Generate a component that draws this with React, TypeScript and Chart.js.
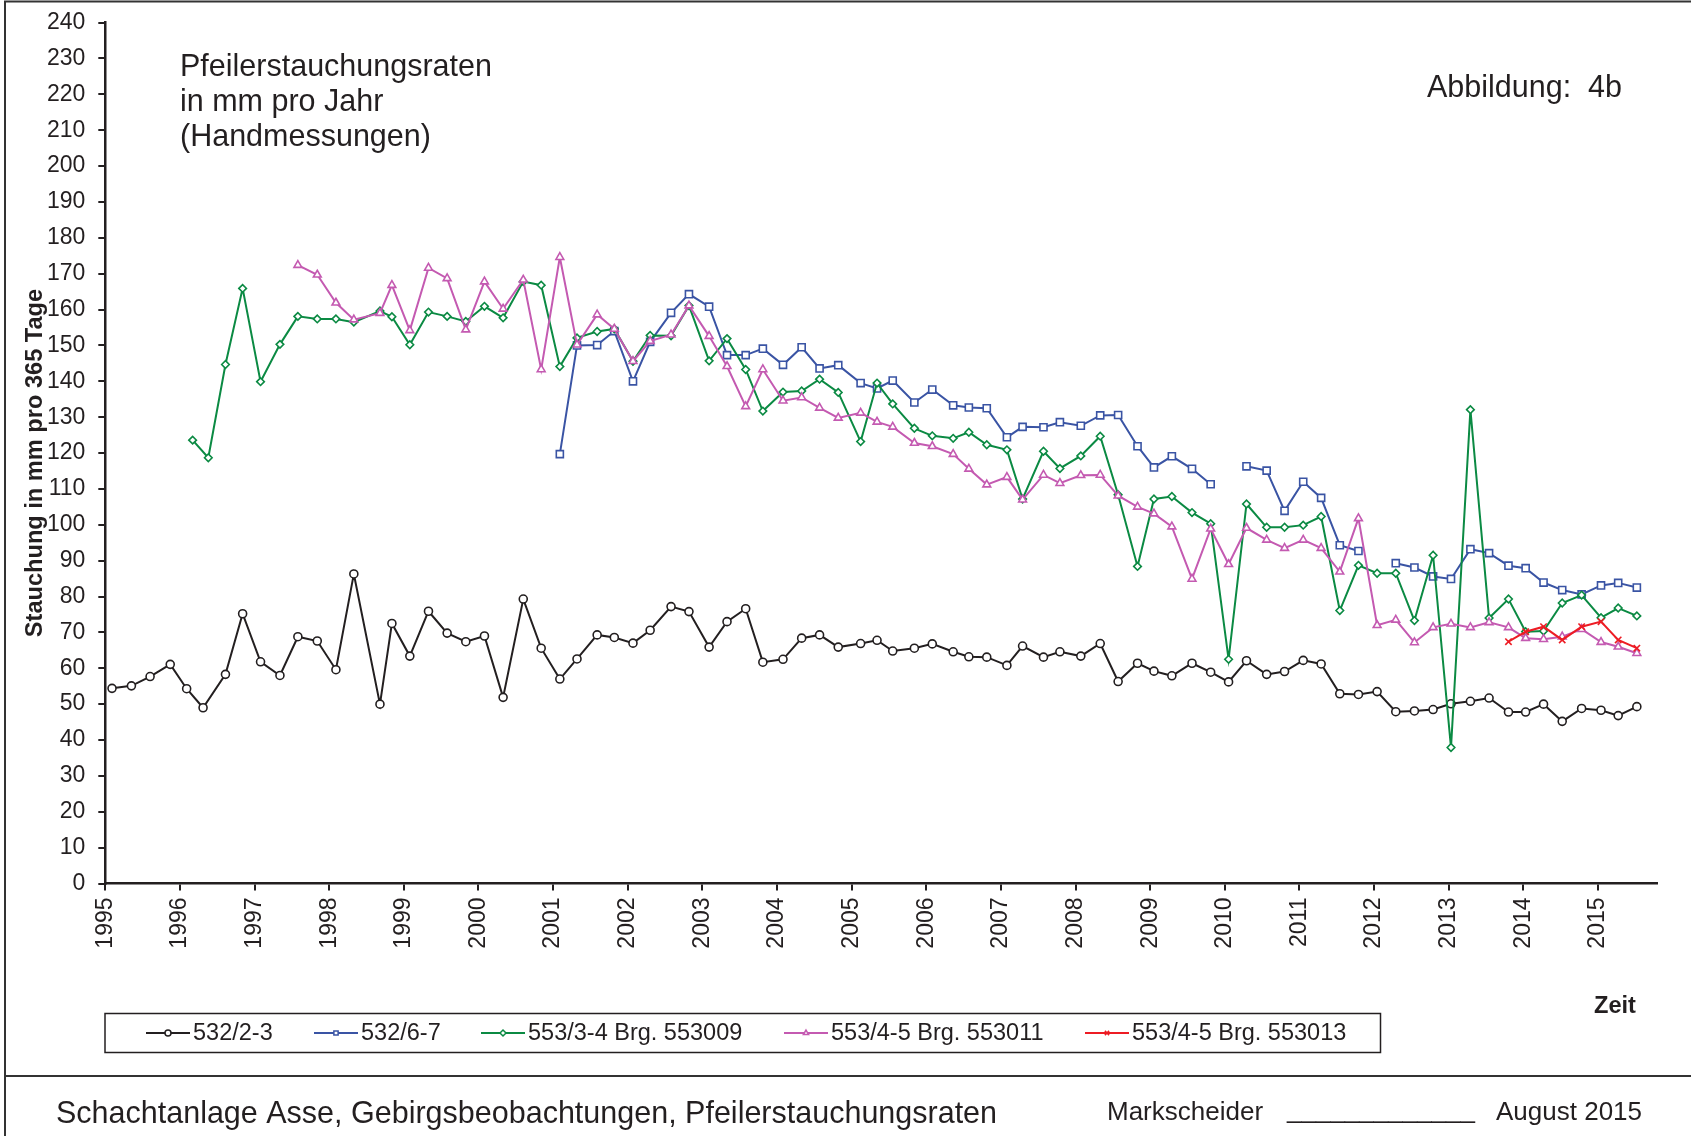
import { useEffect, useRef } from "react"
import { Chart, registerables } from "chart.js"
import { drawPoint } from "chart.js/helpers"

Chart.register(...registerables)

// Messtermine als Dezimaljahr (vierteljährliche Handmessungen)
const messtermine = [
  1995.09, 1995.35, 1995.6, 1995.87,
  1996.09, 1996.31, 1996.61, 1996.84,
  1997.08, 1997.34, 1997.58, 1997.84,
  1998.09, 1998.33, 1998.68, 1998.84,
  1999.08, 1999.33, 1999.58, 1999.83,
  2000.08, 2000.33, 2000.6, 2000.84,
  2001.09, 2001.32, 2001.59, 2001.82,
  2002.07, 2002.3, 2002.58, 2002.82,
  2003.09, 2003.33, 2003.58, 2003.81,
  2004.08, 2004.33, 2004.57, 2004.82,
  2005.12, 2005.34, 2005.55, 2005.84,
  2006.08, 2006.36, 2006.57, 2006.81,
  2007.08, 2007.29, 2007.57, 2007.79,
  2008.07, 2008.33, 2008.57, 2008.83,
  2009.05, 2009.29, 2009.56, 2009.81,
  2010.05, 2010.29, 2010.56, 2010.8,
  2011.05, 2011.29, 2011.54, 2011.79,
  2012.04, 2012.29, 2012.54, 2012.79,
  2013.03, 2013.29, 2013.54, 2013.8,
  2014.03, 2014.27, 2014.52, 2014.78,
  2015.04, 2015.27, 2015.52,
]

const werte532_2_3 = [
  54.4, 55.1, 57.7, 61.1,
  54.3, 49.0, 58.3, 75.2,
  61.8, 58.0, 68.8, 67.6,
  59.6, 86.3, 50.0, 72.5,
  63.4, 75.9, 69.8, 67.4,
  69.0, 51.9, 79.3, 65.6,
  57.0, 62.6, 69.3, 68.6,
  67.0, 70.6, 77.2, 75.8,
  65.9, 73.0, 76.6, 61.7,
  62.5, 68.4, 69.3, 65.9,
  66.9, 67.8, 64.8, 65.6,
  66.8, 64.6, 63.2, 63.1,
  60.8, 66.2, 63.1, 64.6,
  63.4, 66.9, 56.3, 61.4,
  59.2, 57.9, 61.4, 58.9,
  56.2, 62.1, 58.3, 59.1,
  62.2, 61.2, 52.9, 52.7,
  53.5, 47.9, 48.1, 48.5,
  50.1, 50.8, 51.7, 47.8,
  47.8, 50.0, 45.2, 48.8,
  48.3, 46.8, 49.3,
]

const werte532_6_7 = [
  null, null, null, null,
  null, null, null, null,
  null, null, null, null,
  null, null, null, null,
  null, null, null, null,
  null, null, null, null,
  119.7, 150.0, 150.1, 154.0,
  140.0, 151.0, 159.1, 164.3,
  160.8, 147.3, 147.3, 149.1,
  144.6, 149.5, 143.6, 144.5,
  139.5, 138.0, 140.2, 134.1,
  137.7, 133.3, 132.7, 132.5,
  124.4, 127.3, 127.2, 128.6,
  127.6, 130.5, 130.6, 121.9,
  116.0, 119.1, 115.6, 111.3,
  null, 116.3, 115.1, 103.9,
  112.0, 107.5, 94.3, 92.7,
  null, 89.3, 88.1, 85.6,
  84.9, 93.2, 92.1, 88.6,
  87.9, 83.9, 81.8, 80.6,
  83.1, 83.8, 82.5,
]

// die ersten beiden Messungen Brg. 553009 liegen zwischen den Regelterminen
const fruehTermine553009 = [1996.17, 1996.38]
const fruehWerte553009 = [123.6, 118.7]

const werte553009 = [
  null, null, null, null,
  null, null, 144.7, 165.9,
  139.9, 150.3, 158.1, 157.4,
  157.4, 156.5, 159.6, 158.0,
  150.2, 159.3, 158.1, 156.7,
  160.9, 157.7, 167.8, 166.8,
  144.1, 152.1, 153.9, 154.6,
  145.6, 152.8, 152.7, 161.1,
  145.7, 151.9, 143.3, 131.7,
  137.0, 137.3, 140.6, 136.9,
  123.2, 139.5, 133.7, 126.9,
  124.8, 124.1, 125.8, 122.3,
  120.9, 107.2, 120.5, 115.7,
  119.2, 124.7, 108.4, 88.4,
  107.2, 107.9, 103.4, 100.3,
  62.5, 105.8, 99.3, 99.3,
  99.9, 102.3, 76.1, 88.7,
  86.5, 86.5, 73.3, 91.5,
  37.9, 132.1, 74.0, 79.3,
  70.2, 70.4, 78.2, 80.4,
  74.1, 76.8, 74.6,
]

const werte553011 = [
  null, null, null, null,
  null, null, null, null,
  null, null, 172.4, 169.7,
  161.9, 157.2, 159.0, 166.8,
  154.2, 171.6, 168.7, 154.4,
  167.8, 160.2, 168.3, 143.3,
  174.6, 150.2, 158.6, 154.6,
  145.6, 151.2, 153.0, 161.1,
  152.6, 144.2, 133.0, 143.3,
  134.6, 135.5, 132.6, 129.8,
  131.2, 128.7, 127.3, 122.8,
  121.9, 119.7, 115.6, 111.2,
  113.3, 107.0, 113.9, 111.6,
  113.8, 113.9, 108.1, 105.0,
  103.1, 99.5, 84.9, 98.9,
  89.0, 99.1, 95.8, 93.5,
  95.8, 93.5, 86.9, 101.8,
  72.0, 73.5, 67.2, 71.4,
  72.4, 71.4, 72.8, 71.4,
  68.4, 68.1, 68.8, 70.9,
  67.3, 66.0, 64.2,
]

const werte553013 = [
  null, null, null, null,
  null, null, null, null,
  null, null, null, null,
  null, null, null, null,
  null, null, null, null,
  null, null, null, null,
  null, null, null, null,
  null, null, null, null,
  null, null, null, null,
  null, null, null, null,
  null, null, null, null,
  null, null, null, null,
  null, null, null, null,
  null, null, null, null,
  null, null, null, null,
  null, null, null, null,
  null, null, null, null,
  null, null, null, null,
  null, null, null, 67.4,
  70.2, 71.6, 67.9, 71.6,
  73.0, 67.9, 65.6,
]

const jahreTicks = [
  1995, 1996, 1997, 1998, 1999, 2000, 2001, 2002, 2003, 2004, 2005,
  2006, 2007, 2008, 2009, 2010, 2011, 2012, 2013, 2014, 2015,
]

const legendenTexte = [
  "532/2-3",
  "532/6-7",
  "553/3-4 Brg. 553009",
  "553/4-5 Brg. 553011",
  "553/4-5 Brg. 553013",
]

const FONT = '"Liberation Sans", Arial, Helvetica, sans-serif'
const TEXT = "#231f20"

// Punkte auf den Messterminen, führende Lücken abgeschnitten
function punkte(werte: (number | null)[]) {
  const start = werte.findIndex((v) => v !== null)
  return messtermine.slice(start).map((t, i) => ({ x: t, y: werte[start + i] }))
}

const rahmenPlugin = {
  id: "rahmen",
  beforeDraw(chart: Chart) {
    const ctx = chart.ctx
    ctx.save()
    ctx.fillStyle = "#ffffff"
    ctx.fillRect(0, 0, chart.width, chart.height)
    ctx.restore()
  },
  afterDraw(chart: Chart) {
    const ctx = chart.ctx
    ctx.save()

    // Blattrahmen
    ctx.strokeStyle = "#333333"
    ctx.lineWidth = 2
    ctx.beginPath()
    ctx.moveTo(5, 1136)
    ctx.lineTo(5, 1.5)
    ctx.lineTo(1691, 1.5)
    ctx.moveTo(5, 1076)
    ctx.lineTo(1691, 1076)
    ctx.stroke()

    ctx.fillStyle = TEXT
    ctx.textBaseline = "alphabetic"
    ctx.textAlign = "left"

    // Überschrift im Diagramm
    ctx.font = `30.5px ${FONT}`
    ctx.fillText("Pfeilerstauchungsraten", 180, 76)
    ctx.fillText("in mm pro Jahr", 180, 111)
    ctx.fillText("(Handmessungen)", 180, 146)
    ctx.fillText("Abbildung:  4b", 1427, 97)

    // Achsentitel
    ctx.font = `bold 23.6px ${FONT}`
    ctx.fillText("Zeit", 1594, 1013)
    ctx.save()
    ctx.translate(42, 463)
    ctx.rotate(-Math.PI / 2)
    ctx.textAlign = "center"
    ctx.fillText("Stauchung in mm pro 365 Tage", 0, 0)
    ctx.restore()

    // Legende
    ctx.lineWidth = 1.5
    ctx.strokeStyle = TEXT
    ctx.strokeRect(105, 1013.5, 1275.5, 39)
    const legendeX = [146, 314, 481, 784, 1085]
    const ly = 1033
    chart.data.datasets.forEach((ds: any, i: number) => {
      const x0 = legendeX[i]
      ctx.strokeStyle = ds.borderColor
      ctx.lineWidth = 2
      ctx.beginPath()
      ctx.moveTo(x0, ly)
      ctx.lineTo(x0 + 44, ly)
      ctx.stroke()
      ctx.fillStyle = "#ffffff"
      ctx.lineWidth = 1.5
      drawPoint(ctx, { pointStyle: ds.pointStyle, radius: 3, borderWidth: 1.5, rotation: 0 } as any, x0 + 22, ly)
      ctx.fillStyle = TEXT
      ctx.font = `23.5px ${FONT}`
      ctx.textBaseline = "middle"
      ctx.fillText(legendenTexte[i], x0 + 47, ly + 1)
    })

    // Fußzeile
    ctx.textBaseline = "alphabetic"
    ctx.fillStyle = TEXT
    ctx.font = `30.5px ${FONT}`
    ctx.fillText("Schachtanlage Asse, Gebirgsbeobachtungen, Pfeilerstauchungsraten", 56, 1123)
    ctx.font = `26px ${FONT}`
    ctx.fillText("Markscheider", 1107, 1120)
    ctx.fillText("_____________", 1287, 1118)
    ctx.fillText("August 2015", 1496, 1120)

    ctx.restore()
  },
}

export default function App() {
  const chartRef = useRef<HTMLCanvasElement>(null)
  const chartInstance = useRef<Chart | null>(null)

  useEffect(() => {
    if (!chartRef.current) return
    if (chartInstance.current) chartInstance.current.destroy()
    const ctx = chartRef.current.getContext("2d")
    if (!ctx) return

    const linie = {
      borderWidth: 2,
      pointBackgroundColor: "#ffffff",
      pointBorderWidth: 1.6,
      spanGaps: false,
      tension: 0,
    }

    chartInstance.current = new Chart(ctx, {
      type: "line",
      data: {
        datasets: [
          {
            ...linie,
            label: legendenTexte[0],
            data: punkte(werte532_2_3),
            borderColor: "#231f20",
            pointBorderColor: "#231f20",
            pointStyle: "circle",
            pointRadius: 4,
            order: 5,
          },
          {
            ...linie,
            label: legendenTexte[1],
            data: punkte(werte532_6_7),
            borderColor: "#3a54a4",
            pointBorderColor: "#3a54a4",
            pointStyle: "rect",
            pointRadius: 5,
            order: 4,
          },
          {
            ...linie,
            label: legendenTexte[2],
            data: [
              ...fruehTermine553009.map((t, i) => ({ x: t, y: fruehWerte553009[i] })),
              ...punkte(werte553009),
            ],
            borderColor: "#0b8a43",
            pointBorderColor: "#0b8a43",
            pointStyle: "rectRot",
            pointRadius: 3.8,
            order: 3,
          },
          {
            ...linie,
            label: legendenTexte[3],
            data: punkte(werte553011),
            borderColor: "#c45ab1",
            pointBorderColor: "#c45ab1",
            pointStyle: "triangle",
            pointRadius: 4.5,
            order: 2,
          },
          {
            ...linie,
            label: legendenTexte[4],
            data: punkte(werte553013),
            borderColor: "#ed1c24",
            pointBorderColor: "#ed1c24",
            pointStyle: "crossRot",
            pointRadius: 4.5,
            order: 1,
          },
        ],
      },
      options: {
        animation: false,
        responsive: false,
        devicePixelRatio: 1,
        layout: { padding: { left: 0, top: 22.6, right: 34, bottom: 172.5 } },
        plugins: {
          legend: { display: false },
          tooltip: { enabled: false },
          title: { display: false },
        },
        scales: {
          x: {
            type: "linear",
            min: 1995,
            max: 2015.79,
            afterBuildTicks: (scale: any) => {
              scale.ticks = jahreTicks.map((v) => ({ value: v }))
            },
            afterFit: (scale: any) => {
              scale.height = 80
              scale.paddingLeft = 0
              scale.paddingRight = 0
            },
            ticks: {
              autoSkip: false,
              minRotation: 90,
              maxRotation: 90,
              padding: 7,
              color: TEXT,
              font: { family: FONT, size: 23 },
              callback: (value: any) => `${value}`,
            },
            grid: {
              drawOnChartArea: false,
              drawTicks: true,
              tickLength: 7,
              color: TEXT,
              lineWidth: 2,
            },
            border: { display: true, color: TEXT, width: 2.5 },
          },
          y: {
            type: "linear",
            min: 0,
            max: 240,
            afterFit: (scale: any) => {
              scale.width = 105.3
              scale.paddingTop = 0
              scale.paddingBottom = 0
            },
            ticks: {
              stepSize: 10,
              autoSkip: false,
              padding: 13,
              color: TEXT,
              font: { family: FONT, size: 23 },
              callback: (value: any) => `${value}`,
            },
            grid: {
              drawOnChartArea: false,
              drawTicks: true,
              tickLength: 7,
              color: TEXT,
              lineWidth: 2,
            },
            border: { display: true, color: TEXT, width: 2.5 },
          },
        },
      },
      plugins: [rahmenPlugin],
    } as any)

    return () => {
      if (chartInstance.current) {
        chartInstance.current.destroy()
        chartInstance.current = null
      }
    }
  }, [])

  return (
    <div style={{ position: "absolute", left: 0, top: 0, width: 1691, height: 1136, background: "#fff" }}>
      <canvas ref={chartRef} width={1691} height={1136}></canvas>
    </div>
  )
}
